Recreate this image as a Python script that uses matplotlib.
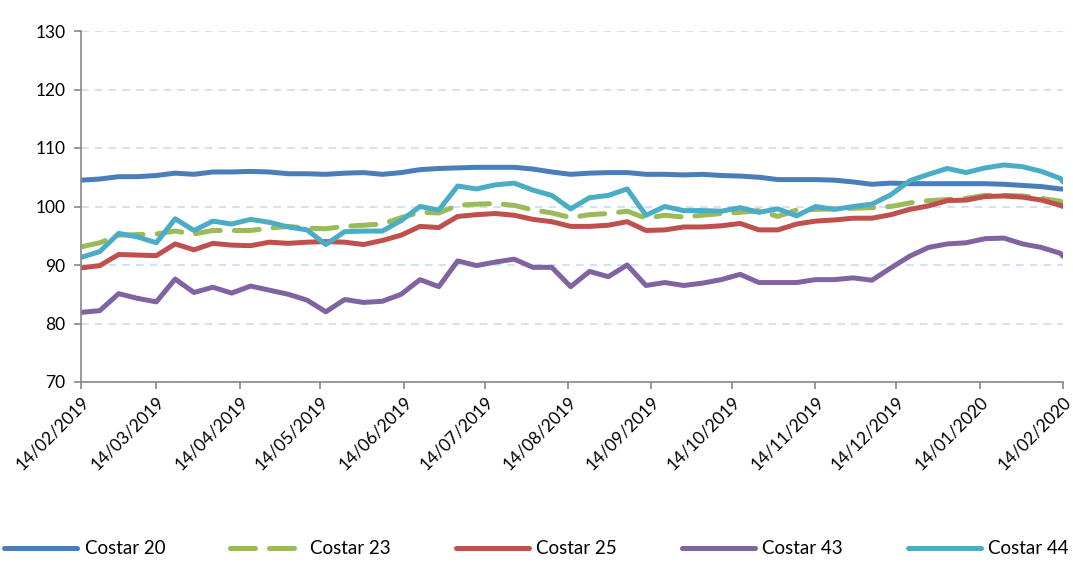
import matplotlib
matplotlib.use("Agg")
import matplotlib.pyplot as plt
import matplotlib.dates as mdates
import numpy as np
import datetime as dt

start = dt.date(2019, 2, 14)
dates = [start + dt.timedelta(days=7 * k) for k in range(53)] + [dt.date(2020, 2, 14)]

costar20 = [104.5, 104.7, 105.1, 105.1, 105.3, 105.7, 105.5, 105.9, 105.9, 106.0,
            105.9, 105.6, 105.6, 105.5, 105.7, 105.8, 105.5, 105.8, 106.3, 106.5,
            106.6, 106.7, 106.7, 106.7, 106.4, 105.9, 105.5, 105.7, 105.8, 105.8,
            105.5, 105.5, 105.4, 105.5, 105.3, 105.2, 105.0, 104.6, 104.6, 104.6,
            104.5, 104.2, 103.8, 104.0, 103.9, 103.9, 103.9, 103.9, 103.9, 103.8,
            103.6, 103.4, 103.0, 103.0]
costar23 = [93.1, 93.8, 95.1, 95.2, 95.3, 95.8, 95.3, 95.9, 95.9, 95.9,
            96.3, 96.6, 96.3, 96.2, 96.6, 96.8, 97.0, 98.1, 99.0, 98.9,
            100.2, 100.4, 100.5, 100.2, 99.4, 98.9, 98.1, 98.6, 98.8, 99.2,
            98.0, 98.5, 98.2, 98.5, 98.8, 99.0, 99.3, 98.3, 99.4, 99.5,
            99.6, 99.7, 99.8, 100.0, 100.6, 101.0, 101.2, 101.4, 101.9, 101.9,
            101.8, 101.4, 100.9, 100.6]
costar25 = [89.5, 89.9, 91.8, 91.7, 91.6, 93.6, 92.6, 93.7, 93.4, 93.3,
            93.9, 93.7, 93.9, 94.0, 93.9, 93.5, 94.2, 95.1, 96.6, 96.4,
            98.3, 98.6, 98.8, 98.5, 97.8, 97.4, 96.6, 96.6, 96.8, 97.4,
            95.9, 96.0, 96.5, 96.5, 96.7, 97.1, 96.0, 96.0, 97.0, 97.5,
            97.7, 98.0, 98.0, 98.6, 99.5, 100.1, 101.0, 101.1, 101.7, 101.8,
            101.6, 101.1, 100.2, 100.0]
costar43 = [81.9, 82.2, 85.1, 84.3, 83.7, 87.6, 85.3, 86.2, 85.2, 86.4,
            85.7, 85.0, 84.0, 82.0, 84.1, 83.6, 83.8, 85.0, 87.5, 86.3,
            90.7, 89.9, 90.5, 91.0, 89.6, 89.6, 86.3, 88.9, 88.0, 90.0,
            86.5, 87.0, 86.5, 86.9, 87.5, 88.4, 87.0, 87.0, 87.0, 87.5,
            87.5, 87.8, 87.4, 89.5, 91.5, 93.0, 93.6, 93.8, 94.5, 94.6,
            93.6, 93.0, 92.0, 91.5]
costar44 = [91.3, 92.3, 95.4, 94.8, 93.8, 97.9, 95.9, 97.5, 97.0, 97.8,
            97.3, 96.5, 96.0, 93.5, 95.7, 95.8, 95.8, 97.6, 100.0, 99.4,
            103.5, 103.0, 103.7, 104.0, 102.8, 101.9, 99.6, 101.5, 101.9, 103.0,
            98.5, 100.0, 99.3, 99.3, 99.2, 99.8, 99.0, 99.6, 98.4, 100.0,
            99.5, 100.0, 100.4, 102.0, 104.4, 105.5, 106.5, 105.8, 106.6, 107.1,
            106.8, 106.0, 104.8, 104.2]

series_names = ["Costar 20", "Costar 23", "Costar 25", "Costar 43", "Costar 44"]
series_values = [costar20, costar23, costar25, costar43, costar44]
colors = ["#4a7ebb", "#9bbb59", "#c0504d", "#8064a2", "#4bacc6"]
styles = ["-", "--", "-", "-", "-"]

plt.rcParams['font.family'] = ['Lato', 'DejaVu Sans']

fig = plt.figure(figsize=(10.73, 5.63), dpi=100)
ax = fig.add_axes([81 / 1073, 1 - 382 / 563, (1063 - 81) / 1073, (382 - 31) / 563])

for name, vals, c, ls in zip(series_names, series_values, colors, styles):
    line, = ax.plot(dates, vals, color=c, lw=3.6, ls=ls, label=name,
                    solid_capstyle='round', solid_joinstyle='round')
    if ls == "--":
        line.set_dashes([5.0, 2.8])
        line.set_dash_capstyle('round')

ax.set_xlim(dt.date(2019, 2, 14), dt.date(2020, 2, 14))
ax.set_ylim(70, 130)
ax.set_yticks(np.arange(70, 131, 10))
tick_dates = []
for i in range(13):
    y = 2019 + (1 + i) // 12
    mth = (1 + i) % 12 + 1
    tick_dates.append(dt.date(y, mth, 14))
ax.set_xticks(tick_dates)
ax.xaxis.set_major_formatter(mdates.DateFormatter('%d/%m/%Y'))
for lab in ax.get_xticklabels():
    lab.set_rotation(45)
    lab.set_ha('right')
    lab.set_rotation_mode('anchor')

ax.grid(axis='y', color='#c6d9f1', ls=(0, (5, 4)), lw=1.1)
ax.set_axisbelow(True)
for s in ['top', 'right']:
    ax.spines[s].set_visible(False)
for s in ['left', 'bottom']:
    ax.spines[s].set_color('#888888')
    ax.spines[s].set_linewidth(1.2)
ax.tick_params(axis='both', colors='#888888', labelcolor='black', labelsize=12.5,
               length=5, width=1.2)
ax.tick_params(axis='y', pad=6)

fig.legend(loc='center', bbox_to_anchor=(0.5, 1 - 549 / 563), ncol=5, frameon=False,
           fontsize=13.5, handlelength=3.9, columnspacing=3.45, handletextpad=0.4)

fig.savefig("out.png", dpi=100)
